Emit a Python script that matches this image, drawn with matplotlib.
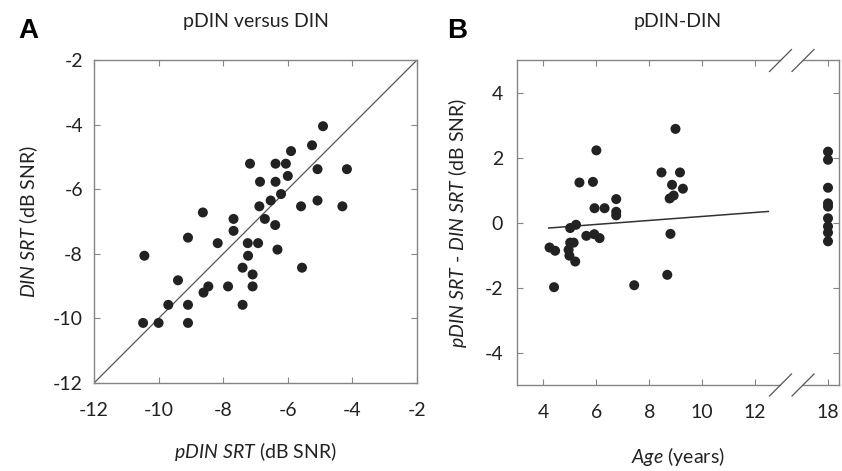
import matplotlib
matplotlib.use('Agg')
import matplotlib.pyplot as plt
from matplotlib.lines import Line2D

# ---------------- data ----------------
# Panel A: pDIN SRT vs DIN SRT (dB SNR)
pdin_srt = [-4.91, -5.25, -5.90, -7.17, -6.38, -6.06, -5.08, -4.17, -6.00, -6.86,
            -6.38, -6.21, -6.53, -5.08, -6.88, -5.59, -4.31, -8.63, -7.68, -6.71,
            -6.39, -7.68, -9.09, -8.17, -7.24, -6.92, -6.32, -10.44, -7.23, -7.40,
            -5.56, -7.09, -9.40, -8.46, -8.61, -7.85, -7.09, -9.70, -9.09, -7.40,
            -10.48, -10.00, -9.09]
din_srt = [-4.05, -4.64, -4.82, -5.21, -5.21, -5.21, -5.38, -5.38, -5.59, -5.77,
           -5.77, -6.15, -6.35, -6.35, -6.53, -6.53, -6.53, -6.72, -6.92, -6.92,
           -7.11, -7.29, -7.50, -7.67, -7.67, -7.67, -7.87, -8.06, -8.06, -8.43,
           -8.43, -8.64, -8.82, -9.01, -9.20, -9.01, -9.01, -9.58, -9.58, -9.58,
           -10.14, -10.14, -10.14]
identity = [-12, -2]

# Panel B: pDIN - DIN difference vs age (years)
age = [8.99, 6.00, 8.46, 9.16, 5.36, 5.87, 8.86, 9.27, 8.92, 8.77,
       6.75, 5.93, 6.31, 6.75, 6.75, 5.23, 5.01, 5.62, 5.92, 6.12,
       8.80, 4.23, 4.44, 5.01, 5.14, 4.95, 4.98, 5.20, 4.40, 7.43,
       8.68,
       18, 18, 18, 18, 18, 18, 18, 18, 18]
diff = [2.88, 2.22, 1.54, 1.54, 1.23, 1.25, 1.16, 1.04, 0.83, 0.74,
        0.72, 0.44, 0.44, 0.33, 0.22, -0.07, -0.17, -0.41, -0.36, -0.48,
        -0.35, -0.77, -0.87, -0.62, -0.62, -0.84, -1.02, -1.20, -1.99, -1.93,
        -1.61,
        2.18, 1.93, 1.07, 0.59, 0.49, 0.13, -0.12, -0.31, -0.58]
fit_age = [4.2, 12.5]
fit_diff = [-0.17, 0.34]

xticks_a = [-12, -10, -8, -6, -4, -2]
yticks_a = [-12, -10, -8, -6, -4, -2]
xticks_b = [4, 6, 8, 10, 12]
xticks_b2 = [18]
yticks_b = [-4, -2, 0, 2, 4]

# ---------------- style ----------------
plt.rcParams['font.family'] = ['Lato', 'DejaVu Sans']
plt.rcParams['mathtext.fontset'] = 'custom'
plt.rcParams['mathtext.it'] = 'Lato:italic'
plt.rcParams['mathtext.rm'] = 'Lato'
plt.rcParams['axes.unicode_minus'] = False

W, H = 842, 471
fig = plt.figure(figsize=(W / 100, H / 100), dpi=100)


def rect(l, t, r, b):
    return [l / W, 1 - b / H, (r - l) / W, (b - t) / H]


SP = '#858585'
DOT = '#222222'
TXT = '#222222'
MS = 52
FS = 14


def style(ax, xpad=15, ypad=8):
    for s in ax.spines.values():
        s.set_color(SP)
        s.set_linewidth(1.0)
    ax.tick_params(axis='both', direction='in', length=4, width=0.8, color=SP,
                   labelsize=FS, labelcolor=TXT, top=True, right=True)
    ax.tick_params(axis='x', pad=xpad)
    ax.tick_params(axis='y', pad=ypad)


# ---------------- panel A ----------------
axA = fig.add_axes(rect(94, 60, 417, 383))
axA.plot(identity, identity, color='#555555', lw=0.9, zorder=1)
axA.scatter(pdin_srt, din_srt, s=MS, color=DOT, edgecolors='none', zorder=2)
axA.set_xlim(-12, -2)
axA.set_ylim(-12, -2)
axA.set_xticks(xticks_a)
axA.set_yticks(yticks_a)
style(axA, xpad=14, ypad=8)
axA.set_xlabel(r'$\mathit{pDIN\ SRT}$ (dB SNR)', fontsize=FS, color=TXT, labelpad=15)
axA.set_ylabel(r'$\mathit{DIN\ SRT}$ (dB SNR)', fontsize=FS, color=TXT, labelpad=9)

# ---------------- panel B (broken x axis) ----------------
scale = 263 / (12.94 - 3.0)
ax1 = fig.add_axes(rect(517, 60, 780, 385))
ax2 = fig.add_axes(rect(803, 60, 839, 385))

child = [a < 15 for a in age]
ax1.scatter([a for a, c in zip(age, child) if c], [d for d, c in zip(diff, child) if c],
            s=MS, color=DOT, edgecolors='none', zorder=2, clip_on=False)
ax1.plot(fit_age, fit_diff, color='#333333', lw=1.1, zorder=1)
ax2.scatter([a for a, c in zip(age, child) if not c], [d for d, c in zip(diff, child) if not c],
            s=MS, color=DOT, edgecolors='none', zorder=2, clip_on=False)

ax1.set_xlim(3.0, 12.94)
ax2.set_xlim(18 - 25 / scale, 18 + 11 / scale)
for ax in (ax1, ax2):
    ax.set_ylim(-5, 5)
    ax.set_yticks(yticks_b)
ax1.set_xticks(xticks_b)
ax2.set_xticks(xticks_b2)
style(ax1, xpad=14, ypad=10)
style(ax2, xpad=14, ypad=10)
ax1.spines['right'].set_visible(False)
ax2.spines['left'].set_visible(False)
ax1.tick_params(right=False)
ax2.tick_params(left=False, labelleft=False)
ax1.set_ylabel(r'$\mathit{pDIN\ SRT}$ - $\mathit{DIN\ SRT}$ (dB SNR)', fontsize=FS,
               color=TXT, labelpad=11)
fig.text(678 / W, 1 - 456 / H, r'$\mathit{Age}$ (years)', fontsize=FS, color=TXT,
         ha='center', va='center')

# break marks
for xc in (780.5, 803):
    for yc in (60.5, 385):
        fig.add_artist(Line2D([(xc - 11) / W, (xc + 11) / W],
                              [1 - (yc + 11) / H, 1 - (yc - 11) / H],
                              color='#555555', lw=0.9))

# ---------------- titles / panel letters ----------------
fig.text(255.5 / W, 1 - 27 / H, 'pDIN versus DIN', fontsize=FS, color=TXT,
         ha='center', va='baseline')
fig.text(678 / W, 1 - 27 / H, 'pDIN-DIN', fontsize=FS, color=TXT,
         ha='center', va='baseline')
fig.text(18 / W, 1 - 38 / H, 'A', fontsize=20, fontweight='bold',
         family='Liberation Sans', color='black', va='baseline')
fig.text(447 / W, 1 - 38 / H, 'B', fontsize=20, fontweight='bold',
         family='Liberation Sans', color='black', va='baseline')

fig.savefig('out.png', dpi=100)
